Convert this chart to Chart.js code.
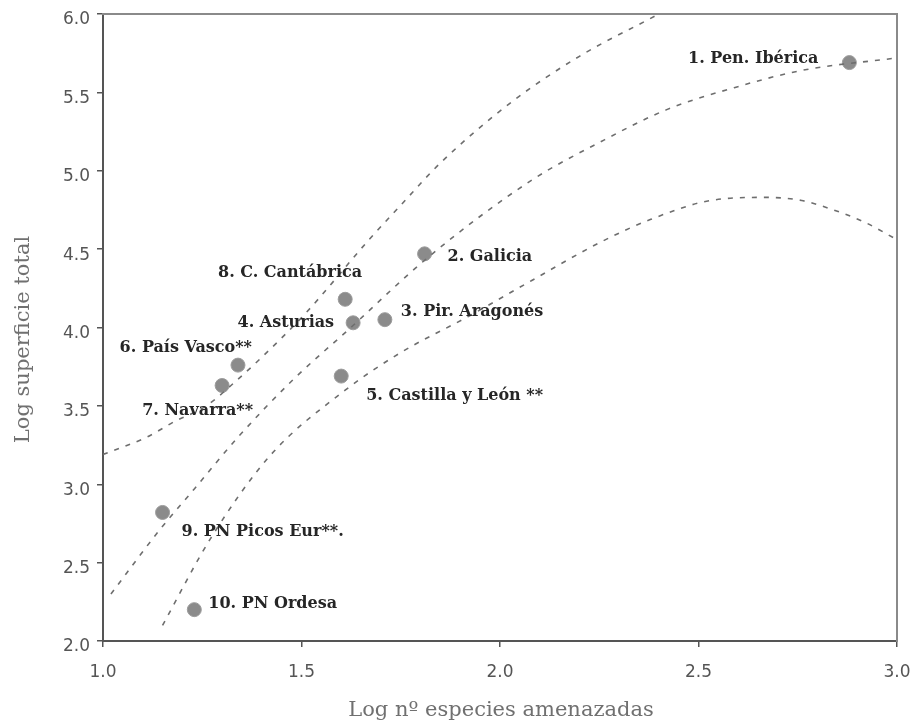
<!DOCTYPE html>
<html>
<head>
<meta charset="utf-8">
<script src="https://cdn.jsdelivr.net/npm/chart.js@4/dist/chart.umd.min.js"></script>
<style>
  html, body { margin: 0; padding: 0; background: #ffffff; }
  #wrap { width: 913px; height: 727px; }
</style>
</head>
<body>
<div id="wrap"><canvas id="chart" width="913" height="727"></canvas></div>
<script>
// Regions and their values (log10 of threatened species count, log10 of total area)
const regions = [
  '1. Pen. Ibérica',
  '2. Galicia',
  '3. Pir. Aragonés',
  '4. Asturias',
  '5. Castilla y León **',
  '6. País Vasco**',
  '7. Navarra**',
  '8. C. Cantábrica',
  '9. PN Picos Eur**.',
  '10. PN Ordesa'
];
const logSpecies = [2.88, 1.81, 1.71, 1.63, 1.60, 1.34, 1.30, 1.61, 1.15, 1.23];
const logArea    = [5.69, 4.47, 4.05, 4.03, 3.69, 3.76, 3.63, 4.18, 2.82, 2.20];

// Fitted curve and its upper / lower bands
const fitX   = [1.02, 1.14, 1.23, 1.34, 1.48, 1.62, 1.82, 2.08, 2.25, 2.42, 2.59, 2.76, 3.00];
const fitY   = [2.30, 2.70, 2.97, 3.30, 3.67, 3.99, 4.45, 4.94, 5.18, 5.39, 5.53, 5.64, 5.72];
const upperX = [1.00, 1.11, 1.18, 1.26, 1.34, 1.40, 1.51, 1.67, 1.75, 1.85, 2.03, 2.20, 2.40, 2.45];
const upperY = [3.19, 3.30, 3.40, 3.50, 3.67, 3.81, 4.09, 4.56, 4.78, 5.05, 5.44, 5.73, 6.00, 6.07];
const lowerX = [1.15, 1.27, 1.42, 1.61, 1.75, 1.92, 2.08, 2.25, 2.38, 2.53, 2.67, 2.76, 2.84, 2.92, 3.00];
const lowerY = [2.10, 2.65, 3.18, 3.60, 3.84, 4.07, 4.30, 4.54, 4.69, 4.81, 4.83, 4.81, 4.75, 4.67, 4.56];

// Axis ticks and titles
const xTickValues = [1.0, 1.5, 2.0, 2.5, 3.0];
const yTickValues = [2.0, 2.5, 3.0, 3.5, 4.0, 4.5, 5.0, 5.5, 6.0];
const xTitle = 'Log nº especies amenazadas';
const yTitle = 'Log superficie total';

const xy = (xs, ys) => xs.map((x, i) => ({ x: x, y: ys[i] }));

// Where each region name sits relative to its marker
const labelPlacement = [
  { align: 'right', dx: -31, dy: -4 },
  { align: 'left',  dx: 23,  dy: 3 },
  { align: 'left',  dx: 16,  dy: -8 },
  { align: 'right', dx: -19, dy: 0 },
  { align: 'left',  dx: 25,  dy: 20 },
  { align: 'right', dx: 14,  dy: -17 },
  { align: 'right', dx: 31,  dy: 25 },
  { align: 'right', dx: 17,  dy: -26 },
  { align: 'left',  dx: 19,  dy: 19 },
  { align: 'left',  dx: 14,  dy: -6 }
];

const regionLabels = {
  id: 'regionLabels',
  afterDatasetsDraw(chart) {
    const meta = chart.getDatasetMeta(3);
    const ctx = chart.ctx;
    ctx.save();
    ctx.font = 'bold 16px "DejaVu Serif"';
    ctx.fillStyle = '#262626';
    ctx.textBaseline = 'middle';
    meta.data.forEach((pt, i) => {
      const p = labelPlacement[i];
      ctx.textAlign = p.align;
      ctx.fillText(regions[i], pt.x + p.dx, pt.y + p.dy);
    });
    ctx.restore();
  }
};

// Axis titles, placed under / beside the plotting area
const axisTitles = {
  id: 'axisTitles',
  afterDraw(chart) {
    const { ctx, chartArea } = chart;
    ctx.save();
    ctx.font = '21px "DejaVu Serif"';
    ctx.fillStyle = '#707070';
    ctx.textAlign = 'center';
    ctx.textBaseline = 'alphabetic';
    ctx.fillText(xTitle, (chartArea.left + chartArea.right) / 2 + 1, chartArea.bottom + 75);
    ctx.translate(29, (chartArea.top + chartArea.bottom) / 2 + 12);
    ctx.rotate(-Math.PI / 2);
    ctx.fillText(yTitle, 0, 0);
    ctx.restore();
  }
};

// Fixed axis band sizes, without extra room for overhanging tick labels
const fixSize = (w, h) => (s) => {
  if (w !== null) s.width = w;
  if (h !== null) s.height = h;
  s.paddingLeft = 0; s.paddingRight = 0; s.paddingTop = 0; s.paddingBottom = 0;
};

const dashed = {
  type: 'line',
  showLine: true,
  borderColor: '#6e6e6e',
  borderWidth: 1.6,
  borderDash: [5, 7],
  pointRadius: 0,
  pointHoverRadius: 0,
  fill: false,
  cubicInterpolationMode: 'monotone'
};

const tickFont = { family: '"DejaVu Sans"', size: 17 };

new Chart(document.getElementById('chart'), {
  type: 'scatter',
  data: {
    datasets: [
      Object.assign({ data: xy(upperX, upperY) }, dashed),
      Object.assign({ data: xy(fitX, fitY) }, dashed),
      Object.assign({ data: xy(lowerX, lowerY) }, dashed),
      {
        type: 'scatter',
        data: xy(logSpecies, logArea),
        pointRadius: 7,
        pointHoverRadius: 7,
        backgroundColor: '#8b8b8b',
        borderColor: '#9c9c9c',
        borderWidth: 1
      }
    ]
  },
  options: {
    responsive: false,
    devicePixelRatio: 1,
    animation: false,
    layout: { padding: 0 },
    plugins: { legend: { display: false }, tooltip: { enabled: false } },
    scales: {
      x: {
        type: 'linear',
        position: 'bottom',
        min: 1, max: 3,
        afterBuildTicks: (s) => { s.ticks = xTickValues.map(v => ({ value: v })); },
        afterFit: fixSize(null, 86),
        ticks: { color: '#555555', font: tickFont, padding: 15, callback: (v) => v.toFixed(1) },
        grid: { display: true, drawOnChartArea: false, drawTicks: true, tickLength: 6, color: '#555555', lineWidth: 1.5 },
        border: { display: true, color: '#555555', width: 2 }
      },
      y: {
        type: 'linear',
        position: 'left',
        min: 2, max: 6,
        afterBuildTicks: (s) => { s.ticks = yTickValues.map(v => ({ value: v })); },
        afterFit: fixSize(103, null),
        ticks: { color: '#555555', font: tickFont, padding: 7, labelOffset: 6, callback: (v) => v.toFixed(1) },
        grid: { display: true, drawOnChartArea: false, drawTicks: true, tickLength: 6, color: '#555555', lineWidth: 1.5 },
        border: { display: true, color: '#555555', width: 2 }
      },
      xTop: {
        type: 'linear',
        position: 'top',
        min: 1, max: 3,
        afterFit: fixSize(null, 14),
        ticks: { display: false },
        grid: { display: false },
        border: { display: true, color: '#8a8a8a', width: 2 }
      },
      yRight: {
        type: 'linear',
        position: 'right',
        min: 2, max: 6,
        afterFit: fixSize(16, null),
        ticks: { display: false },
        grid: { display: false },
        border: { display: true, color: '#8a8a8a', width: 2 }
      }
    }
  },
  plugins: [regionLabels, axisTitles]
});
</script>
</body>
</html>
